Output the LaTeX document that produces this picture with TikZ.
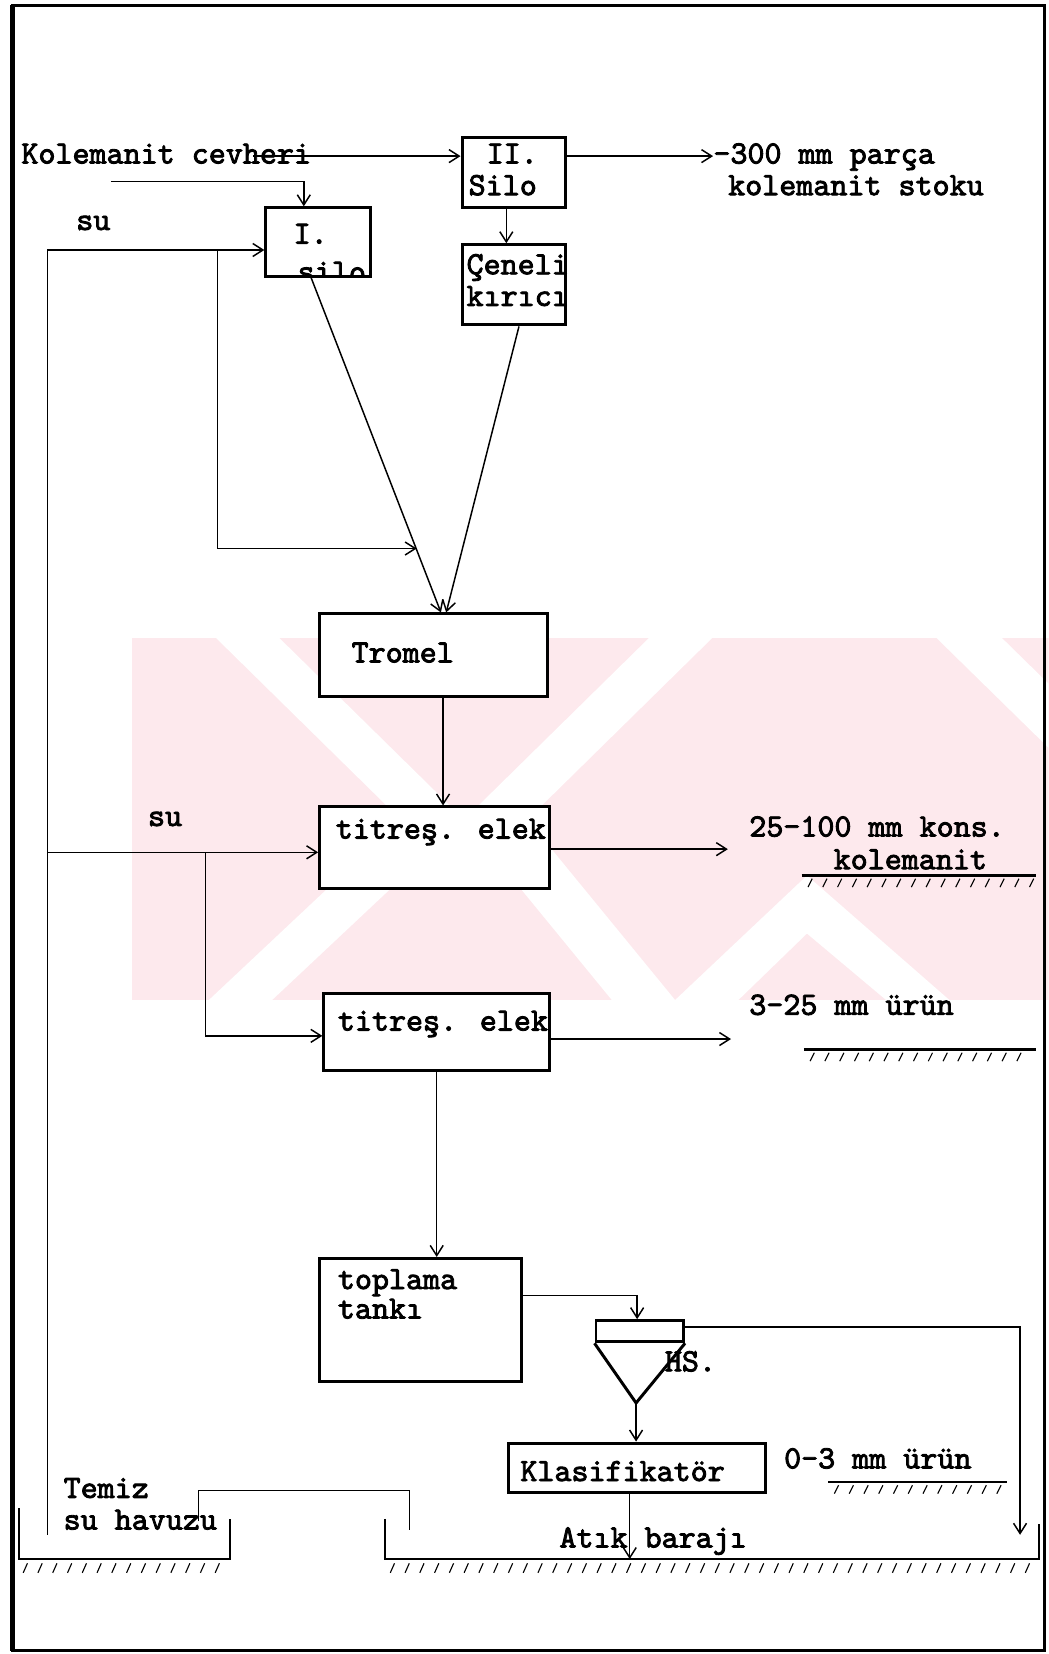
\documentclass[tikz,border=0pt]{standalone}
\usepackage{fontspec}
\newfontfamily\daktilo[FakeBold=2.6]{lmmono10-regular.otf}
\usetikzlibrary{arrows.meta,calc}
\definecolor{filigran}{RGB}{253,233,237}
\begin{document}
\begin{tikzpicture}[x=0.2mm, y=-0.2mm,
    kutu/.style={draw, line width=1.6pt, fill=white, inner sep=0pt},
    yazi/.style={font=\daktilo\fontsize{17.5}{17}\selectfont,
                 anchor=base west, inner sep=0pt},
    ok/.style={-{Straight Barb[length=5.5pt,width=7pt]}, line width=0.8pt},
    hat/.style={line width=0.8pt},
    duvar/.style={line width=1.3pt},
    tarama/.style={line width=0.6pt}]
  \useasboundingbox (0,0) rectangle (994,1568);

  % ── Filigran (arka plan) ─────────────────────────────────────────
  \begin{scope}
    \clip (125,605) rectangle (994,948);
    \fill[filigran] (125,605) rectangle (994,948);
    \fill[white] (205,605) -- (265,605) -- (440,777) -- (258,948)
      -- (198,948) -- (380,777) -- cycle;
    \fill[white] (615,605) -- (675,605) -- (500,777) -- (640,948)
      -- (580,948) -- (440,777) -- cycle;
    \fill[white] (888,605) -- (950,605) -- (1200,850) -- (1138,850) -- cycle;
    \fill[white] (640,948) -- (765,830) -- (900,948) -- (840,948)
      -- (765,885) -- (700,948) -- cycle;
  \end{scope}

  % ── Çerçeve ──────────────────────────────────────────────────────
  \draw[line width=1.6pt] (12,5) rectangle (990,1565);
  \draw[line width=2.6pt] (12,5) -- (12,1565);

  % ── Üst kısım: siloların beslenmesi ──────────────────────────────
  \node[yazi] (kolem) at (20,155) {Kolemanit cevheri};
  \node[kutu, minimum width=19.6mm, minimum height=13.4mm] (silo2) at (487,163.5) {};
  \node[yazi] (silo2a) at (461,155) {II.};
  \node[yazi] (silo2b) at (444,185) {Silo};
  \node[kutu, minimum width=19.8mm, minimum height=13mm] (silo1) at (301.5,229.5) {};
  \node[yazi] (silo1a) at (278,231) {I.};
  \begin{scope}
    \clip (252,197) rectangle (351,262);
    \node[yazi] (silo1b) at (282,267) {silo};
  \end{scope}
  \node[kutu, minimum width=19.6mm, minimum height=15.2mm] (kirici) at (487,270) {};
  \node[yazi] (kirici1) at (442,260) {Çeneli};
  \node[yazi] (kirici2) at (442,290) {kırıcı};

  \node[yazi] (stok1) at (676,155) {-300 mm parça};
  \node[yazi] (stok2) at (690,185) {kolemanit stoku};

  \coordinate (cevher) at (240,148);
  \coordinate (besle) at (105,172);
  \draw[ok] (cevher) -- (cevher -| silo2.west);
  \draw[ok] (cevher -| silo2.east) -- (cevher -| stok1.west);
  \draw[ok] (besle) -| ($(silo1.north)+(-13.5,0)$);
  \draw[ok] ($(silo2.south)+(-7,0)$) -- ($(kirici.north)+(-7,0)$);

  % ── Su hattı (sol) ───────────────────────────────────────────────
  \node[yazi] (su1) at (72,218) {su};
  \node[yazi] (su2) at (140,783) {su};
  \coordinate (su_a) at (45,237);
  \coordinate (su_b) at (45,808);
  \coordinate (su_c) at (45,1455);
  \coordinate (dal_a) at (206,237);
  \coordinate (dal_b) at (195,808);
  \coordinate (giris) at (395,520);
  \draw[hat] (su_a) -- (su_c);
  \draw[ok] (su_a) -- (su_a -| silo1.west);
  \draw[ok] (dal_a) |- (giris);

  % ── Tromel ve elekler ────────────────────────────────────────────
  \node[kutu, minimum width=43.2mm, minimum height=15.6mm] (tromel) at (411,621) {};
  \node[yazi] (tromel1) at (333,628) {Tromel};
  \draw[ok] ($(silo1.south)+(-6.5,0)$) -- ($(tromel.north)+(7,0)$);
  \draw[ok] ($(kirici.south)+(5,0)$) -- ($(tromel.north)+(12,0)$);

  \node[kutu, minimum width=43.6mm, minimum height=15.4mm] (elek1) at (412,803.5) {};
  \node[yazi] (elek1a) at (318,795) {titreş. elek};
  \node[kutu, minimum width=42.8mm, minimum height=14.6mm] (elek2) at (414,978.5) {};
  \node[yazi] (elek2a) at (320,977) {titreş. elek};

  \draw[ok] ($(tromel.south)+(9,0)$) -- ($(elek1.north)+(8,0)$);
  \draw[ok] (su_b) -- (su_b -| elek1.west);
  \draw[ok] (dal_b) |- ($(elek2.west)+(0,3.5)$);

  \coordinate (urun1) at (690,805);
  \coordinate (urun2) at (693,985);
  \draw[ok] (urun1 -| elek1.east) -- (urun1);
  \draw[ok] (urun2 -| elek2.east) -- (urun2);

  \node[yazi] (kons1) at (710,793) {25-100 mm kons.};
  \node[yazi] (kons2) at (790,824) {kolemanit};
  \node[yazi] (ince1) at (710,962) {3-25 mm ürün};

  % ── Toplama tankı, hidrosiklon, klasifikatör ─────────────────────
  \node[kutu, minimum width=38.2mm, minimum height=23.4mm] (tank) at (398.5,1251.5) {};
  \node[yazi] (tank1) at (320,1222) {toplama};
  \node[yazi] (tank2) at (320,1250) {tankı};
  \draw[ok] (elek2.south) -- (elek2.south |- tank.north);

  \node[kutu, minimum width=16.6mm, minimum height=4mm] (hs) at (606.5,1262) {};
  \coordinate (tepe) at (603,1330);
  \draw[line width=1.6pt] (hs.south west) -- (tepe) -- (hs.south east);
  \node[yazi] (hs1) at (630,1300) {HS.};
  \draw[ok] ($(tank.east)+(0,-23.5)$) -| ($(hs.north)+(-2.5,0)$);

  \node[kutu, minimum width=48.8mm, minimum height=9.4mm] (klas) at (604,1391.5) {};
  \node[yazi] (klas1) at (493,1404) {Klasifikatör};
  \node[yazi] (ince2) at (743,1392) {0-3 mm ürün};
  \draw[ok] (tepe) -- (tepe |- klas.north);

  % ── Havuz ve atık barajı ─────────────────────────────────────────
  \node[yazi] (havuz1) at (60,1420) {Temiz};
  \node[yazi] (havuz2) at (60,1450) {su havuzu};
  \node[yazi] (atik1) at (530,1467) {Atık barajı};

  \coordinate (atik_alt) at (597,1478);
  \coordinate (atik_sag) at (967,1455);
  \draw[ok] ($(klas.south)+(-7,0)$) -- (atik_alt);
  \draw[ok] ($(hs.east)+(0,-4)$) -| (atik_sag);
  \draw[hat] (188,1442) |- (388,1413) -- (388,1450);

  \draw[duvar] (18,1430) |- (218,1478) -- (218,1440);
  \draw[duvar] (365,1440) |- (985,1478) -- (985,1445);

  % ── Zemin çizgileri ──────────────────────────────────────────────
  \draw[duvar] (760,830) -- (982,830);
  \draw[duvar] (762,995) -- (982,995);
  \draw[duvar] (785,1405) -- (955,1405);
  \foreach \x in {770,784,...,980} \draw[tarama] (\x,833) -- ++(-4,8);
  \foreach \x in {772,786,...,980} \draw[tarama] (\x,998) -- ++(-4,8);
  \foreach \x in {795,809,...,955} \draw[tarama] (\x,1408) -- ++(-4,8);
  \foreach \x in {26,40,...,218} \draw[tarama] (\x,1482) -- ++(-4,9);
  \foreach \x in {374,388,...,985} \draw[tarama] (\x,1482) -- ++(-4,9);
\end{tikzpicture}
\end{document}
